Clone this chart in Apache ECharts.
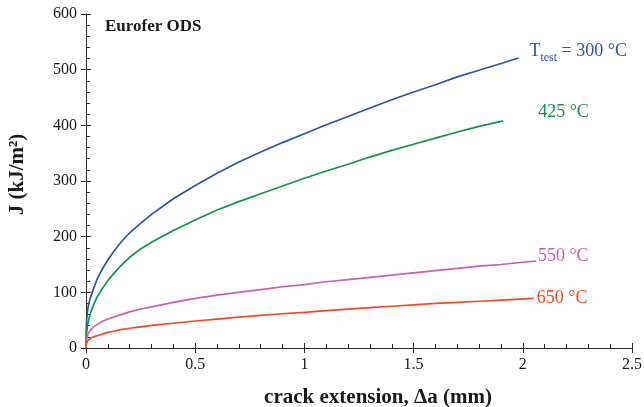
<!DOCTYPE html>
<html>
<head>
<meta charset="utf-8">
<script src="https://cdn.jsdelivr.net/npm/echarts@6/dist/echarts.min.js"></script>
<style>html,body{margin:0;padding:0;background:#fff}#c{width:644px;height:407px}</style>
</head>
<body>
<div id="c"></div>
<script>
// Crack extension Δa (mm) and J (kJ/m^2)
const da300 = [0, 0.001, 0.003, 0.006, 0.01, 0.02, 0.035, 0.05, 0.075, 0.1, 0.13, 0.16, 0.2, 0.25, 0.3, 0.4, 0.5, 0.6, 0.7, 0.8, 0.9, 1.0, 1.1, 1.2, 1.3, 1.4, 1.5, 1.6, 1.7, 1.8, 1.9, 1.98];
const J300  = [0, 30, 50, 63, 75, 90, 107, 123, 142, 158, 175, 190, 207, 224, 240, 268, 292, 314, 334, 352, 369, 385, 401, 416, 431, 446, 460, 473, 487, 499, 511, 521];
const da425 = [0, 0.001, 0.003, 0.006, 0.01, 0.02, 0.035, 0.05, 0.075, 0.1, 0.13, 0.16, 0.2, 0.25, 0.3, 0.4, 0.5, 0.6, 0.7, 0.8, 0.9, 1.0, 1.1, 1.2, 1.3, 1.4, 1.5, 1.6, 1.7, 1.8, 1.91];
const J425  = [0, 15, 28, 38, 47, 62, 78, 91, 107, 121, 135, 148, 163, 178, 190, 211, 230, 248, 263, 277, 291, 305, 318, 330, 343, 355, 366, 377, 388, 398, 408];
const da550 = [0, 0.001, 0.003, 0.006, 0.01, 0.02, 0.035, 0.05, 0.075, 0.1, 0.13, 0.16, 0.2, 0.25, 0.3, 0.4, 0.5, 0.6, 0.7, 0.8, 0.9, 1.0, 1.1, 1.2, 1.3, 1.4, 1.5, 1.6, 1.7, 1.8, 1.9, 2.0, 2.06];
const J550  = [0, 10, 17, 22, 26, 32, 38, 42, 48, 52, 56, 60, 65, 70, 74, 82, 89, 95, 100, 105, 110, 114, 119, 123, 127, 131, 135, 139, 143, 147, 150, 154, 156];
const da650 = [0, 0.001, 0.003, 0.006, 0.01, 0.02, 0.035, 0.05, 0.075, 0.1, 0.13, 0.16, 0.2, 0.25, 0.3, 0.4, 0.5, 0.6, 0.7, 0.8, 0.9, 1.0, 1.1, 1.2, 1.3, 1.4, 1.5, 1.6, 1.7, 1.8, 1.9, 2.05];
const J650  = [0, 5, 9, 12, 14, 17, 20, 22, 25, 28, 30.5, 33, 35.5, 38, 40.5, 44.5, 48.5, 52, 55.5, 58.5, 61.5, 64, 67, 70, 72.5, 75, 77.5, 80, 82, 84, 86, 89];
const xTicks = [0, 0.5, 1, 1.5, 2, 2.5];
const yTicks = [0, 100, 200, 300, 400, 500, 600];
const labels = ['T|test| = 300 °C', '425 °C', '550 °C', '650 °C'];
const title = 'Eurofer ODS';

const FONT = '"Liberation Serif", "Times New Roman", serif';
const AX = '#2a2a2a';
const TXT = '#1a1a1a';
const pairs = (xs, ys) => xs.map((x, i) => [x, ys[i]]);

const chart = echarts.init(document.getElementById('c'), null, {renderer: 'canvas'});
const baseX = {
  type: 'value', min: xTicks[0], max: xTicks[xTicks.length - 1], interval: 0.5,
  position: 'bottom', splitLine: {show: false},
  axisLine: {onZero: false, lineStyle: {color: AX, width: 1}}
};
const baseY = {
  type: 'value', min: yTicks[0], max: yTicks[yTicks.length - 1], interval: 100,
  position: 'left', splitLine: {show: false},
  axisLine: {onZero: false, lineStyle: {color: AX, width: 1}}
};
function lineSeries(name, xs, ys, color, fmt, rich, offset, distance) {
  return {
    name, type: 'line', data: pairs(xs, ys), showSymbol: false, symbol: 'none',
    smooth: false,
    lineStyle: {color, width: 1.7}, z: 3,
    endLabel: {
      show: true, formatter: fmt, color, fontFamily: FONT, fontSize: 18,
      offset, distance, rich
    }
  };
}
const BLUE = '#2b54a4';
const parts = labels[0].split('|');
const sub = {
  a: {fontFamily: FONT, fontSize: 18, color: BLUE, lineHeight: 20, verticalAlign: 'bottom', padding: [0, 0, 4, 0]},
  b: {fontFamily: FONT, fontSize: 12, color: BLUE, lineHeight: 14, verticalAlign: 'bottom'}
};
chart.setOption({
  animation: false,
  backgroundColor: '#fff',
  grid: {left: 86, right: 12, top: 14, bottom: 59, containLabel: false, outerBoundsMode: 'none'},
  xAxis: [
    Object.assign({}, baseX, {
      name: 'crack extension, Δa (mm)', nameLocation: 'middle', nameGap: 39,
      nameTextStyle: {fontFamily: FONT, fontSize: 21, fontWeight: 'bold', color: TXT, padding: [0, 0, 0, 38]},
      axisTick: {show: true, inside: true, length: 5, lineStyle: {color: AX}},
      minorTick: {show: true, splitNumber: 5, length: 4, lineStyle: {color: AX}},
      axisLabel: {show: true, fontFamily: FONT, fontSize: 16, color: TXT, margin: 9,
        formatter: v => String(v)}
    }),
    Object.assign({}, baseX, {
      axisLine: {show: false},
      axisTick: {show: true, inside: false, length: 5, lineStyle: {color: AX}},
      axisLabel: {show: false}
    })
  ],
  yAxis: [
    Object.assign({}, baseY, {
      name: 'J (kJ/m²)', nameLocation: 'middle', nameGap: 58, nameRotate: 90,
      nameTextStyle: {fontFamily: FONT, fontSize: 21, fontWeight: 'bold', color: TXT, padding: [0, 0, 0, 13]},
      axisTick: {show: true, inside: true, length: 5, lineStyle: {color: AX}},
      minorTick: {show: true, splitNumber: 5, length: 4, lineStyle: {color: AX}},
      axisLabel: {show: true, fontFamily: FONT, fontSize: 16, color: TXT, margin: 9}
    }),
    Object.assign({}, baseY, {
      axisLine: {show: false},
      axisTick: {show: true, inside: false, length: 5, lineStyle: {color: AX}},
      axisLabel: {show: false}
    })
  ],
  graphic: [{
    type: 'text', left: 105, top: 18,
    style: {text: title, fontFamily: FONT, fontSize: 17, fontWeight: 'bold', fill: TXT}
  }],
  series: [
    lineSeries('300', da300, J300, BLUE, '{a|' + parts[0] + '}{b|' + parts[1] + '}{a|' + parts[2] + '}', sub, [3, -4], 8),
    lineSeries('425', da425, J425, '#10944a', labels[1], null, [27, -9], 8),
    lineSeries('550', da550, J550, '#cc5fae', labels[2], null, [-6, -5], 8),
    lineSeries('650', da650, J650, '#ef4c25', labels[3], null, [-5, 0], 8)
  ]
});
</script>
</body>
</html>
